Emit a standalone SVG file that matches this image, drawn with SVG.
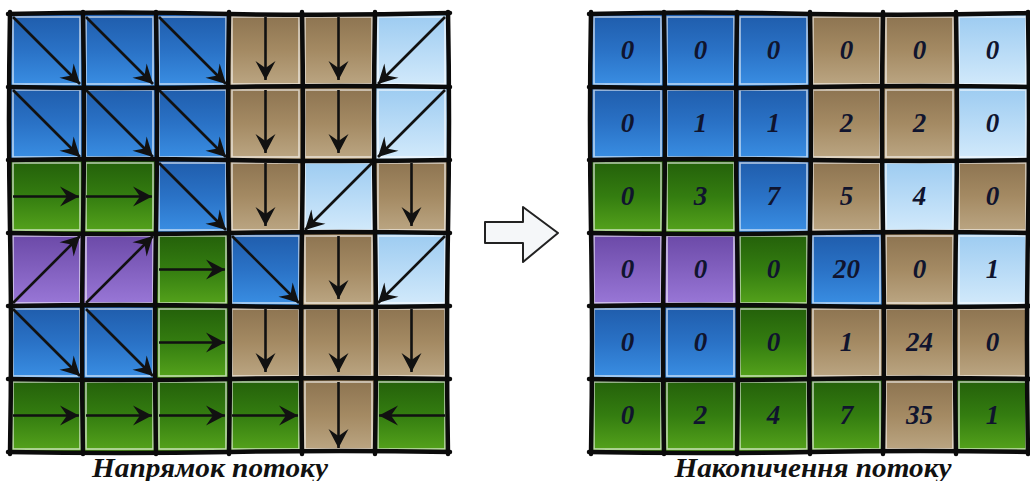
<svg xmlns="http://www.w3.org/2000/svg" width="1030" height="481" viewBox="0 0 1030 481">
<defs>
<linearGradient id="gB" x1="0" y1="0" x2="0" y2="1"><stop offset="0" stop-color="#1f5cab"/><stop offset="0.5" stop-color="#2a72c6"/><stop offset="1" stop-color="#3a8fe4"/></linearGradient>
<linearGradient id="gL" x1="0" y1="0" x2="0" y2="1"><stop offset="0" stop-color="#9ccbf1"/><stop offset="1" stop-color="#d3eafb"/></linearGradient>
<linearGradient id="gT" x1="0" y1="0" x2="0" y2="1"><stop offset="0" stop-color="#8c7350"/><stop offset="0.5" stop-color="#a48a63"/><stop offset="1" stop-color="#bca784"/></linearGradient>
<linearGradient id="gG" x1="0" y1="0" x2="0" y2="1"><stop offset="0" stop-color="#235f0a"/><stop offset="0.5" stop-color="#347d10"/><stop offset="1" stop-color="#56a41c"/></linearGradient>
<linearGradient id="gP" x1="0" y1="0" x2="0" y2="1"><stop offset="0" stop-color="#6a48a6"/><stop offset="1" stop-color="#9a78d8"/></linearGradient>
<marker id="ah" viewBox="-20 -12 22 24" refX="0" refY="0" markerWidth="22" markerHeight="24" markerUnits="userSpaceOnUse" orient="auto"><path d="M0,0 L-19,-10 L-12,0 L-19,10 Z" fill="#111"/></marker>
</defs>
<style>
.c{stroke:none}
.B{fill:url(#gB)}.L{fill:url(#gL)}.T{fill:url(#gT)}.G{fill:url(#gG)}.P{fill:url(#gP)}
.hl{fill:none;stroke:#fff;stroke-width:1.6;opacity:0.65}
.grid{fill:none;stroke:#0b0b0b;stroke-width:4.5;stroke-linecap:round}
.arr{fill:none;stroke:#111;stroke-width:2.6;marker-end:url(#ah)}
.num{font-family:"Liberation Serif","DejaVu Serif",serif;font-weight:bold;font-style:italic;font-size:27px;fill:#10142e;text-anchor:middle}
.cap{font-family:"Liberation Serif","DejaVu Serif",serif;font-weight:bold;font-style:italic;font-size:27px;fill:#111;text-anchor:middle}
</style>
<rect width="1030" height="481" fill="#fff"/>

<!-- Left grid cells -->
<g id="left-cells">
<g id="L00"><rect class="c B" x="10" y="14" width="73" height="73"/><rect class="hl" x="13" y="17" width="67" height="67"/></g>
<g id="L01"><rect class="c B" x="83" y="14" width="73" height="73"/><rect class="hl" x="86" y="17" width="67" height="67"/></g>
<g id="L02"><rect class="c B" x="156" y="14" width="73" height="73"/><rect class="hl" x="159" y="17" width="67" height="67"/></g>
<g id="L03"><rect class="c T" x="229" y="14" width="73" height="73"/><rect class="hl" x="232" y="17" width="67" height="67"/></g>
<g id="L04"><rect class="c T" x="302" y="14" width="73" height="73"/><rect class="hl" x="305" y="17" width="67" height="67"/></g>
<g id="L05"><rect class="c L" x="375" y="14" width="73" height="73"/><rect class="hl" x="378" y="17" width="67" height="67"/></g>

<g id="L10"><rect class="c B" x="10" y="87" width="73" height="73"/><rect class="hl" x="13" y="90" width="67" height="67"/></g>
<g id="L11"><rect class="c B" x="83" y="87" width="73" height="73"/><rect class="hl" x="86" y="90" width="67" height="67"/></g>
<g id="L12"><rect class="c B" x="156" y="87" width="73" height="73"/><rect class="hl" x="159" y="90" width="67" height="67"/></g>
<g id="L13"><rect class="c T" x="229" y="87" width="73" height="73"/><rect class="hl" x="232" y="90" width="67" height="67"/></g>
<g id="L14"><rect class="c T" x="302" y="87" width="73" height="73"/><rect class="hl" x="305" y="90" width="67" height="67"/></g>
<g id="L15"><rect class="c L" x="375" y="87" width="73" height="73"/><rect class="hl" x="378" y="90" width="67" height="67"/></g>

<g id="L20"><rect class="c G" x="10" y="160" width="73" height="73"/><rect class="hl" x="13" y="163" width="67" height="67"/></g>
<g id="L21"><rect class="c G" x="83" y="160" width="73" height="73"/><rect class="hl" x="86" y="163" width="67" height="67"/></g>
<g id="L22"><rect class="c B" x="156" y="160" width="73" height="73"/><rect class="hl" x="159" y="163" width="67" height="67"/></g>
<g id="L23"><rect class="c T" x="229" y="160" width="73" height="73"/><rect class="hl" x="232" y="163" width="67" height="67"/></g>
<g id="L24"><rect class="c L" x="302" y="160" width="73" height="73"/><rect class="hl" x="305" y="163" width="67" height="67"/></g>
<g id="L25"><rect class="c T" x="375" y="160" width="73" height="73"/><rect class="hl" x="378" y="163" width="67" height="67"/></g>

<g id="L30"><rect class="c P" x="10" y="233" width="73" height="73"/><rect class="hl" x="13" y="236" width="67" height="67"/></g>
<g id="L31"><rect class="c P" x="83" y="233" width="73" height="73"/><rect class="hl" x="86" y="236" width="67" height="67"/></g>
<g id="L32"><rect class="c G" x="156" y="233" width="73" height="73"/><rect class="hl" x="159" y="236" width="67" height="67"/></g>
<g id="L33"><rect class="c B" x="229" y="233" width="73" height="73"/><rect class="hl" x="232" y="236" width="67" height="67"/></g>
<g id="L34"><rect class="c T" x="302" y="233" width="73" height="73"/><rect class="hl" x="305" y="236" width="67" height="67"/></g>
<g id="L35"><rect class="c L" x="375" y="233" width="73" height="73"/><rect class="hl" x="378" y="236" width="67" height="67"/></g>

<g id="L40"><rect class="c B" x="10" y="306" width="73" height="73"/><rect class="hl" x="13" y="309" width="67" height="67"/></g>
<g id="L41"><rect class="c B" x="83" y="306" width="73" height="73"/><rect class="hl" x="86" y="309" width="67" height="67"/></g>
<g id="L42"><rect class="c G" x="156" y="306" width="73" height="73"/><rect class="hl" x="159" y="309" width="67" height="67"/></g>
<g id="L43"><rect class="c T" x="229" y="306" width="73" height="73"/><rect class="hl" x="232" y="309" width="67" height="67"/></g>
<g id="L44"><rect class="c T" x="302" y="306" width="73" height="73"/><rect class="hl" x="305" y="309" width="67" height="67"/></g>
<g id="L45"><rect class="c T" x="375" y="306" width="73" height="73"/><rect class="hl" x="378" y="309" width="67" height="67"/></g>

<g id="L50"><rect class="c G" x="10" y="379" width="73" height="73"/><rect class="hl" x="13" y="382" width="67" height="67"/></g>
<g id="L51"><rect class="c G" x="83" y="379" width="73" height="73"/><rect class="hl" x="86" y="382" width="67" height="67"/></g>
<g id="L52"><rect class="c G" x="156" y="379" width="73" height="73"/><rect class="hl" x="159" y="382" width="67" height="67"/></g>
<g id="L53"><rect class="c G" x="229" y="379" width="73" height="73"/><rect class="hl" x="232" y="382" width="67" height="67"/></g>
<g id="L54"><rect class="c T" x="302" y="379" width="73" height="73"/><rect class="hl" x="305" y="382" width="67" height="67"/></g>
<g id="L55"><rect class="c G" x="375" y="379" width="73" height="73"/><rect class="hl" x="378" y="382" width="67" height="67"/></g>
</g>

<!-- Left grid lines -->
<g id="left-grid" class="grid">
<path d="M10,12 Q8,120 10,230 Q12,340 10,454"/>
<path d="M83,12 Q85,120 83,230 Q81,340 83,454"/>
<path d="M156,12 Q158,120 156,230 Q154,340 156,454"/>
<path d="M229,12 Q227,120 229,230 Q231,340 229,454"/>
<path d="M302,12 Q304,120 302,230 Q300,340 302,454"/>
<path d="M375,12 Q373,120 375,230 Q377,340 375,454"/>
<path d="M448,12 Q450,120 448,230 Q446,340 448,454"/>
<path d="M8,14 Q120,11 230,14 Q340,16 450,13"/>
<path d="M8,87 Q120,89 230,87 Q340,85 450,87"/>
<path d="M8,160 Q120,158 230,160 Q340,162 450,160"/>
<path d="M8,233 Q120,235 230,233 Q340,231 450,233"/>
<path d="M8,306 Q120,304 230,306 Q340,308 450,306"/>
<path d="M8,379 Q120,381 230,379 Q340,377 450,379"/>
<path d="M8,452 Q120,454 230,452 Q340,450 450,452"/>
</g>

<!-- Flow direction arrows -->
<g id="connectors">
<path class="arr" d="M13,17 L80,84"/>
<path class="arr" d="M86,17 L153,84"/>
<path class="arr" d="M159,17 L226,84"/>
<path class="arr" d="M265.5,17 L265.5,80"/>
<path class="arr" d="M338.5,17 L338.5,80"/>
<path class="arr" d="M445,17 L378,84"/>

<path class="arr" d="M13,90 L80,157"/>
<path class="arr" d="M86,90 L153,157"/>
<path class="arr" d="M159,90 L226,157"/>
<path class="arr" d="M265.5,90 L265.5,153"/>
<path class="arr" d="M338.5,90 L338.5,153"/>
<path class="arr" d="M445,90 L378,157"/>

<path class="arr" d="M13,196.5 L79,196.5"/>
<path class="arr" d="M86,196.5 L152,196.5"/>
<path class="arr" d="M159,163 L226,230"/>
<path class="arr" d="M265.5,163 L265.5,226"/>
<path class="arr" d="M372,163 L305,230"/>
<path class="arr" d="M411.5,163 L411.5,226"/>

<path class="arr" d="M13,303 L80,236"/>
<path class="arr" d="M86,303 L153,236"/>
<path class="arr" d="M159,269.5 L225,269.5"/>
<path class="arr" d="M232,236 L299,303"/>
<path class="arr" d="M338.5,236 L338.5,299"/>
<path class="arr" d="M445,236 L378,303"/>

<path class="arr" d="M13,309 L80,376"/>
<path class="arr" d="M86,309 L153,376"/>
<path class="arr" d="M159,342.5 L225,342.5"/>
<path class="arr" d="M265.5,309 L265.5,372"/>
<path class="arr" d="M338.5,309 L338.5,372"/>
<path class="arr" d="M411.5,309 L411.5,372"/>

<path class="arr" d="M13,415.5 L79,415.5"/>
<path class="arr" d="M86,415.5 L152,415.5"/>
<path class="arr" d="M159,415.5 L225,415.5"/>
<path class="arr" d="M232,415.5 L298,415.5"/>
<path class="arr" d="M338.5,382 L338.5,448"/>
<path class="arr" d="M445,415.5 L379,415.5"/>
</g>

<!-- Block arrow -->
<g id="block-arrow">
<path d="M485,222 L523,222 L523,207 L558,233 L523,262 L523,243 L485,243 Z" fill="#f5f7f9" stroke="#222" stroke-width="2" stroke-linejoin="round"/>
</g>

<!-- Right grid cells -->
<g id="right-cells">
<g id="R00"><rect class="c B" x="591" y="14" width="73" height="73"/><rect class="hl" x="594" y="17" width="67" height="67"/><text class="num" x="627.5" y="59">0</text></g>
<g id="R01"><rect class="c B" x="664" y="14" width="73" height="73"/><rect class="hl" x="667" y="17" width="67" height="67"/><text class="num" x="700.5" y="59">0</text></g>
<g id="R02"><rect class="c B" x="737" y="14" width="73" height="73"/><rect class="hl" x="740" y="17" width="67" height="67"/><text class="num" x="773.5" y="59">0</text></g>
<g id="R03"><rect class="c T" x="810" y="14" width="73" height="73"/><rect class="hl" x="813" y="17" width="67" height="67"/><text class="num" x="846.5" y="59">0</text></g>
<g id="R04"><rect class="c T" x="883" y="14" width="73" height="73"/><rect class="hl" x="886" y="17" width="67" height="67"/><text class="num" x="919.5" y="59">0</text></g>
<g id="R05"><rect class="c L" x="956" y="14" width="73" height="73"/><rect class="hl" x="959" y="17" width="67" height="67"/><text class="num" x="992.5" y="59">0</text></g>

<g id="R10"><rect class="c B" x="591" y="87" width="73" height="73"/><rect class="hl" x="594" y="90" width="67" height="67"/><text class="num" x="627.5" y="132">0</text></g>
<g id="R11"><rect class="c B" x="664" y="87" width="73" height="73"/><rect class="hl" x="667" y="90" width="67" height="67"/><text class="num" x="700.5" y="132">1</text></g>
<g id="R12"><rect class="c B" x="737" y="87" width="73" height="73"/><rect class="hl" x="740" y="90" width="67" height="67"/><text class="num" x="773.5" y="132">1</text></g>
<g id="R13"><rect class="c T" x="810" y="87" width="73" height="73"/><rect class="hl" x="813" y="90" width="67" height="67"/><text class="num" x="846.5" y="132">2</text></g>
<g id="R14"><rect class="c T" x="883" y="87" width="73" height="73"/><rect class="hl" x="886" y="90" width="67" height="67"/><text class="num" x="919.5" y="132">2</text></g>
<g id="R15"><rect class="c L" x="956" y="87" width="73" height="73"/><rect class="hl" x="959" y="90" width="67" height="67"/><text class="num" x="992.5" y="132">0</text></g>

<g id="R20"><rect class="c G" x="591" y="160" width="73" height="73"/><rect class="hl" x="594" y="163" width="67" height="67"/><text class="num" x="627.5" y="205">0</text></g>
<g id="R21"><rect class="c G" x="664" y="160" width="73" height="73"/><rect class="hl" x="667" y="163" width="67" height="67"/><text class="num" x="700.5" y="205">3</text></g>
<g id="R22"><rect class="c B" x="737" y="160" width="73" height="73"/><rect class="hl" x="740" y="163" width="67" height="67"/><text class="num" x="773.5" y="205">7</text></g>
<g id="R23"><rect class="c T" x="810" y="160" width="73" height="73"/><rect class="hl" x="813" y="163" width="67" height="67"/><text class="num" x="846.5" y="205">5</text></g>
<g id="R24"><rect class="c L" x="883" y="160" width="73" height="73"/><rect class="hl" x="886" y="163" width="67" height="67"/><text class="num" x="919.5" y="205">4</text></g>
<g id="R25"><rect class="c T" x="956" y="160" width="73" height="73"/><rect class="hl" x="959" y="163" width="67" height="67"/><text class="num" x="992.5" y="205">0</text></g>

<g id="R30"><rect class="c P" x="591" y="233" width="73" height="73"/><rect class="hl" x="594" y="236" width="67" height="67"/><text class="num" x="627.5" y="278">0</text></g>
<g id="R31"><rect class="c P" x="664" y="233" width="73" height="73"/><rect class="hl" x="667" y="236" width="67" height="67"/><text class="num" x="700.5" y="278">0</text></g>
<g id="R32"><rect class="c G" x="737" y="233" width="73" height="73"/><rect class="hl" x="740" y="236" width="67" height="67"/><text class="num" x="773.5" y="278">0</text></g>
<g id="R33"><rect class="c B" x="810" y="233" width="73" height="73"/><rect class="hl" x="813" y="236" width="67" height="67"/><text class="num" x="846.5" y="278">20</text></g>
<g id="R34"><rect class="c T" x="883" y="233" width="73" height="73"/><rect class="hl" x="886" y="236" width="67" height="67"/><text class="num" x="919.5" y="278">0</text></g>
<g id="R35"><rect class="c L" x="956" y="233" width="73" height="73"/><rect class="hl" x="959" y="236" width="67" height="67"/><text class="num" x="992.5" y="278">1</text></g>

<g id="R40"><rect class="c B" x="591" y="306" width="73" height="73"/><rect class="hl" x="594" y="309" width="67" height="67"/><text class="num" x="627.5" y="351">0</text></g>
<g id="R41"><rect class="c B" x="664" y="306" width="73" height="73"/><rect class="hl" x="667" y="309" width="67" height="67"/><text class="num" x="700.5" y="351">0</text></g>
<g id="R42"><rect class="c G" x="737" y="306" width="73" height="73"/><rect class="hl" x="740" y="309" width="67" height="67"/><text class="num" x="773.5" y="351">0</text></g>
<g id="R43"><rect class="c T" x="810" y="306" width="73" height="73"/><rect class="hl" x="813" y="309" width="67" height="67"/><text class="num" x="846.5" y="351">1</text></g>
<g id="R44"><rect class="c T" x="883" y="306" width="73" height="73"/><rect class="hl" x="886" y="309" width="67" height="67"/><text class="num" x="919.5" y="351">24</text></g>
<g id="R45"><rect class="c T" x="956" y="306" width="73" height="73"/><rect class="hl" x="959" y="309" width="67" height="67"/><text class="num" x="992.5" y="351">0</text></g>

<g id="R50"><rect class="c G" x="591" y="379" width="73" height="73"/><rect class="hl" x="594" y="382" width="67" height="67"/><text class="num" x="627.5" y="424">0</text></g>
<g id="R51"><rect class="c G" x="664" y="379" width="73" height="73"/><rect class="hl" x="667" y="382" width="67" height="67"/><text class="num" x="700.5" y="424">2</text></g>
<g id="R52"><rect class="c G" x="737" y="379" width="73" height="73"/><rect class="hl" x="740" y="382" width="67" height="67"/><text class="num" x="773.5" y="424">4</text></g>
<g id="R53"><rect class="c G" x="810" y="379" width="73" height="73"/><rect class="hl" x="813" y="382" width="67" height="67"/><text class="num" x="846.5" y="424">7</text></g>
<g id="R54"><rect class="c T" x="883" y="379" width="73" height="73"/><rect class="hl" x="886" y="382" width="67" height="67"/><text class="num" x="919.5" y="424">35</text></g>
<g id="R55"><rect class="c G" x="956" y="379" width="73" height="73"/><rect class="hl" x="959" y="382" width="67" height="67"/><text class="num" x="992.5" y="424">1</text></g>
</g>

<!-- Right grid lines -->
<g id="right-grid" class="grid">
<path d="M591,12 Q589,120 591,230 Q593,340 591,454"/>
<path d="M664,12 Q666,120 664,230 Q662,340 664,454"/>
<path d="M737,12 Q735,120 737,230 Q739,340 737,454"/>
<path d="M810,12 Q812,120 810,230 Q808,340 810,454"/>
<path d="M883,12 Q881,120 883,230 Q885,340 883,454"/>
<path d="M956,12 Q958,120 956,230 Q954,340 956,454"/>
<path d="M1028,12 Q1030,120 1028,230 Q1026,340 1028,454"/>
<path d="M589,14 Q700,11 810,14 Q920,16 1030,13"/>
<path d="M589,87 Q700,89 810,87 Q920,85 1030,87"/>
<path d="M589,160 Q700,158 810,160 Q920,162 1030,160"/>
<path d="M589,233 Q700,235 810,233 Q920,231 1030,233"/>
<path d="M589,306 Q700,304 810,306 Q920,308 1030,306"/>
<path d="M589,379 Q700,381 810,379 Q920,377 1030,379"/>
<path d="M589,452 Q700,454 810,452 Q920,450 1030,452"/>
</g>

<!-- Captions -->
<g id="captions">
<text class="cap" x="210" y="477" textLength="236" lengthAdjust="spacingAndGlyphs">Напрямок потоку</text>
<text class="cap" x="813" y="477" textLength="277" lengthAdjust="spacingAndGlyphs">Накопичення потоку</text>
</g>
</svg>
